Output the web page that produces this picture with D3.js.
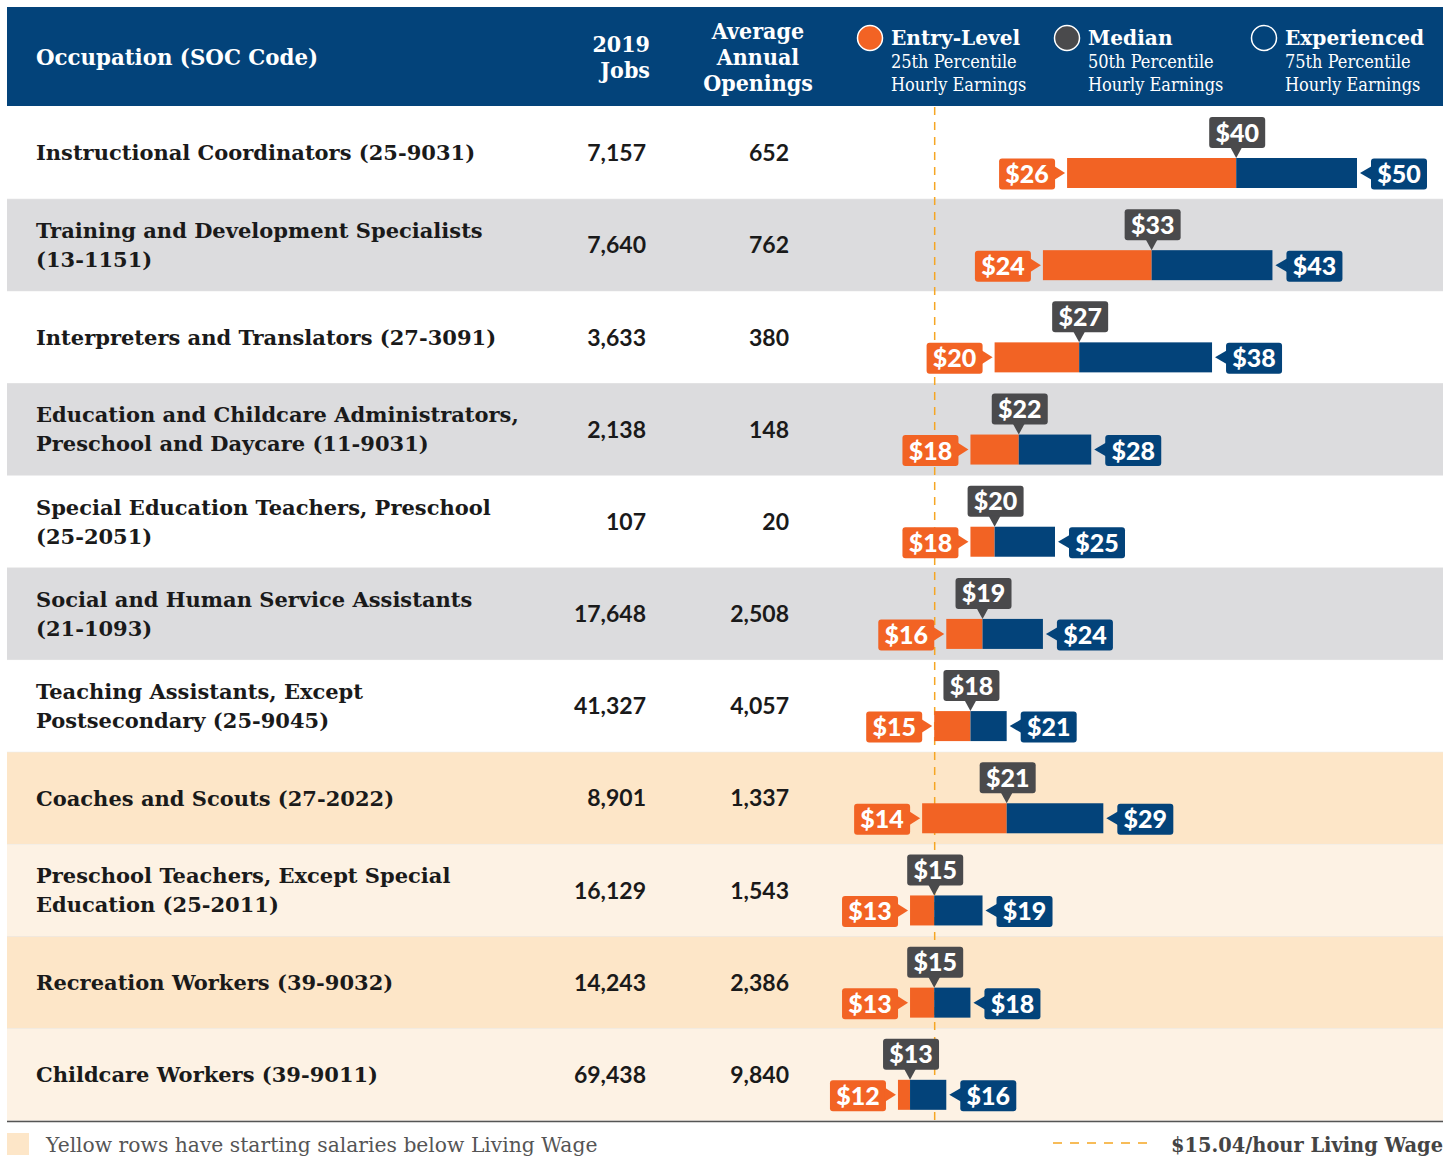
<!DOCTYPE html>
<html><head><meta charset="utf-8">
<script src="https://cdn.jsdelivr.net/npm/d3@7"></script>
<style>
body{margin:0;background:#fff;}
svg{display:block;}
.slab{font-family:"DejaVu Serif",serif;}
.sans{font-family:Lato,"Open Sans",sans-serif;}
</style></head>
<body>
<svg id="chart" width="1455" height="1157"></svg>
<script>
const occupations = [
  ["Instructional Coordinators (25-9031)"],
  ["Training and Development Specialists","(13-1151)"],
  ["Interpreters and Translators (27-3091)"],
  ["Education and Childcare Administrators,","Preschool and Daycare (11-9031)"],
  ["Special Education Teachers, Preschool","(25-2051)"],
  ["Social and Human Service Assistants","(21-1093)"],
  ["Teaching Assistants, Except","Postsecondary (25-9045)"],
  ["Coaches and Scouts (27-2022)"],
  ["Preschool Teachers, Except Special","Education (25-2011)"],
  ["Recreation Workers (39-9032)"],
  ["Childcare Workers (39-9011)"]
];
const jobs2019 = [7157, 7640, 3633, 2138, 107, 17648, 41327, 8901, 16129, 14243, 69438];
const annualOpenings = [652, 762, 380, 148, 20, 2508, 4057, 1337, 1543, 2386, 9840];
const entryLevel = [26, 24, 20, 18, 18, 16, 15, 14, 13, 13, 12];
const median = [40, 33, 27, 22, 20, 19, 18, 21, 15, 15, 13];
const experienced = [50, 43, 38, 28, 25, 24, 21, 29, 19, 18, 16];
const belowLivingWage = [false,false,false,false,false,false,false,true,true,true,true];
const livingWage = 15.04;
const headerCols = [["2019","Jobs"],["Average","Annual","Openings"]];
const legendItems = [
  {title:"Entry-Level", sub:["25th Percentile","Hourly Earnings"]},
  {title:"Median", sub:["50th Percentile","Hourly Earnings"]},
  {title:"Experienced", sub:["75th Percentile","Hourly Earnings"]}
];
const footNote = "Yellow rows have starting salaries below Living Wage";
const wageNote = "$15.04/hour Living Wage";

const C = {
  header:"#03437a", orange:"#f26324", blue:"#03437a", dark:"#4a4a4c",
  grey:"#dcdcde", yellow:"#fde6c8", cream:"#fdf2e4", text:"#1a1a1a", wage:"#f5a623"
};

const svg = d3.select("#chart");
const left = 7, right = 1443, top0 = 107, bottom = 1121;
const n = occupations.length;
const y = d3.scaleBand().domain(d3.range(n)).range([top0, bottom]).padding(0);
const x = d3.scaleLinear().domain([0, 50]).range([753, 1357]);
const fmt = d3.format(",");

function squeeze(sel, k){ sel.attr("transform", function(){ const ax=+d3.select(this).attr("data-ax"); return `translate(${ax*(1-k)},0) scale(${k},1)`; }); }

// header band
svg.append("rect").attr("x", left).attr("y", 7).attr("width", right-left).attr("height", 99).attr("fill", C.header);
svg.append("text").attr("class","slab").attr("x",36).attr("data-ax",36).attr("y",57).attr("dy","0.35em")
  .attr("fill","#fff").attr("font-weight","bold").attr("font-size",22).text("Occupation (SOC Code)").call(squeeze,0.97);
const hc = [{x:650, anchor:"end", y0:44, lines:headerCols[0]},{x:758, anchor:"middle", y0:31, lines:headerCols[1]}];
hc.forEach(h=>{
  const t = svg.append("text").attr("class","slab").attr("fill","#fff").attr("font-weight","bold")
    .attr("font-size",22).attr("text-anchor",h.anchor).attr("data-ax",h.x);
  h.lines.forEach((l,i)=>t.append("tspan").attr("x",h.x).attr("y",h.y0+i*26).attr("dy","0.35em").text(l));
  t.call(squeeze,0.94);
});
// legend
const legFill = [C.orange, C.dark, "none"];
const legX = [870, 1067, 1264];
legendItems.forEach((d,i)=>{
  svg.append("circle").attr("cx",legX[i]).attr("cy",38).attr("r",12.5)
    .attr("fill",legFill[i]).attr("stroke","#fff").attr("stroke-width",1.5);
  svg.append("text").attr("class","slab").attr("x",legX[i]+21).attr("data-ax",legX[i]+21).attr("y",38).attr("dy","0.35em")
    .attr("fill","#fff").attr("font-weight","bold").attr("font-size",21).text(d.title).call(squeeze,0.96);
  d.sub.forEach((s,j)=>svg.append("text").attr("class","slab").attr("x",legX[i]+21).attr("data-ax",legX[i]+21).attr("y",62+j*23)
    .attr("dy","0.35em").attr("fill","#fff").attr("font-weight",300).attr("font-size",18).text(s).call(squeeze,0.9));
});

// rows
const rows = svg.append("g").selectAll("g").data(d3.range(n)).join("g")
  .attr("transform", i=>`translate(0,${y(i)})`);
let nonYellow = 0, yellowIdx = 0;
const rowFill = d3.range(n).map(i=>{
  if (belowLivingWage[i]) { return (yellowIdx++ % 2 === 0) ? C.yellow : C.cream; }
  return (nonYellow++ % 2 === 0) ? "#ffffff" : C.grey;
});
rows.append("rect").attr("x",left).attr("y",0).attr("width",right-left).attr("height",y.bandwidth())
  .attr("fill", i=>rowFill[i]);
rows.append("line").attr("x1",left).attr("x2",right).attr("y1",y.bandwidth()).attr("y2",y.bandwidth())
  .attr("stroke","#e8e8e8").attr("stroke-width",1);

const bh = y.bandwidth();
rows.each(function(i){
  const g = d3.select(this);
  const lines = occupations[i];
  const t = g.append("text").attr("class","slab").attr("fill",C.text).attr("font-size",21).attr("font-weight","bold").attr("data-ax",36);
  lines.forEach((l,j)=>t.append("tspan").attr("x",36).attr("y",bh/2 + (j-(lines.length-1)/2)*29).attr("dy","0.35em").text(l));
  g.append("text").attr("class","sans").attr("x",646).attr("y",bh/2).attr("dy","0.35em").attr("text-anchor","end")
    .attr("font-size",23).attr("font-weight","bold").attr("fill",C.text).text(fmt(jobs2019[i]));
  g.append("text").attr("class","sans").attr("x",789).attr("y",bh/2).attr("dy","0.35em").attr("text-anchor","end")
    .attr("font-size",23).attr("font-weight","bold").attr("fill",C.text).text(fmt(annualOpenings[i]));
});

// living wage line (behind bars)
svg.append("line").attr("x1",x(livingWage)).attr("x2",x(livingWage)).attr("y1",top0).attr("y2",bottom)
  .attr("stroke",C.wage).attr("stroke-width",1.5).attr("stroke-dasharray","8,7");

// bars
const bars = svg.append("g").selectAll("g").data(d3.range(n)).join("g")
  .attr("transform", i=>`translate(0,${y(i)})`);
const barTop = 51, barH = 30;
bars.each(function(i){
  const g = d3.select(this);
  const xe = x(entryLevel[i]), xm = x(median[i]), xx = x(experienced[i]);
  g.append("rect").attr("x",xe).attr("y",barTop).attr("width",xm-xe).attr("height",barH).attr("fill",C.orange);
  g.append("rect").attr("x",xm).attr("y",barTop).attr("width",xx-xm).attr("height",barH).attr("fill",C.blue);
  const bw = 56, boxH = 31, cy = barTop + barH/2;
  const eR = xe - 12;
  g.append("rect").attr("x",eR-bw).attr("y",cy-boxH/2+1).attr("width",bw).attr("height",boxH).attr("rx",3).attr("fill",C.orange);
  g.append("path").attr("d",`M${eR-1},${cy-7}L${eR+10},${cy}L${eR-1},${cy+7}Z`).attr("fill",C.orange);
  g.append("text").attr("class","sans").attr("x",eR-bw/2).attr("y",cy+1).attr("dy","0.36em").attr("text-anchor","middle")
    .attr("fill","#fff").attr("font-size",25).attr("font-weight",900).text("$"+entryLevel[i]);
  const xL = xx + 14;
  g.append("rect").attr("x",xL).attr("y",cy-boxH/2+1).attr("width",bw).attr("height",boxH).attr("rx",3).attr("fill",C.blue);
  g.append("path").attr("d",`M${xL+1},${cy-7}L${xL-11},${cy}L${xL+1},${cy+7}Z`).attr("fill",C.blue);
  g.append("text").attr("class","sans").attr("x",xL+bw/2).attr("y",cy+1).attr("dy","0.36em").attr("text-anchor","middle")
    .attr("fill","#fff").attr("font-size",25).attr("font-weight",900).text("$"+experienced[i]);
  const mTop = 10;
  g.append("rect").attr("x",xm-bw/2+1).attr("y",mTop).attr("width",bw).attr("height",boxH).attr("rx",3).attr("fill",C.dark);
  g.append("path").attr("d",`M${xm-6},${mTop+boxH-1}L${xm},${barTop}L${xm+6},${mTop+boxH-1}Z`).attr("fill",C.dark);
  g.append("text").attr("class","sans").attr("x",xm+1).attr("y",mTop+boxH/2).attr("dy","0.36em").attr("text-anchor","middle")
    .attr("fill","#fff").attr("font-size",25).attr("font-weight",900).text("$"+median[i]);
});

// bottom rule
svg.append("line").attr("x1",left).attr("x2",right).attr("y1",bottom+0.5).attr("y2",bottom+0.5).attr("stroke","#555").attr("stroke-width",1.5);

// footer
svg.append("rect").attr("x",7).attr("y",1133).attr("width",22).attr("height",22).attr("fill",C.yellow);
svg.append("text").attr("class","slab").attr("x",46).attr("y",1145).attr("dy","0.35em").attr("fill","#555")
  .attr("font-size",20.3).attr("font-weight",300).text(footNote);
svg.append("line").attr("x1",1053).attr("x2",1148).attr("y1",1143).attr("y2",1143)
  .attr("stroke",C.wage).attr("stroke-width",1.5).attr("stroke-dasharray","9,8");
svg.append("text").attr("class","slab").attr("x",1443).attr("data-ax",1443).attr("y",1145).attr("dy","0.35em").attr("text-anchor","end")
  .attr("fill","#444").attr("font-size",20).attr("font-weight","bold").text(wageNote).call(squeeze,0.97);
</script>
</body></html>
